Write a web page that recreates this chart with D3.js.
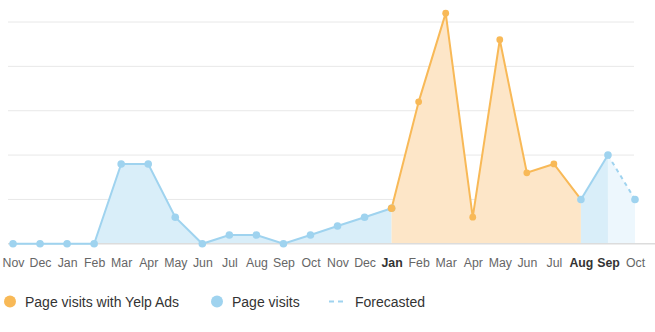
<!DOCTYPE html>
<html><head><meta charset="utf-8">
<script src="https://cdn.jsdelivr.net/npm/d3@7"></script>
<style>
html,body{margin:0;padding:0;background:#fff;}
svg{display:block;font-family:"Liberation Sans",Arial,Helvetica,sans-serif;}
</style></head>
<body>
<svg id="chart" width="655" height="332"></svg>
<script>
const months = ["Nov","Dec","Jan","Feb","Mar","Apr","May","Jun","Jul","Aug","Sep","Oct",
                "Nov","Dec","Jan","Feb","Mar","Apr","May","Jun","Jul","Aug","Sep","Oct"];
const pageVisits = [0,0,0,0,18,18,6,0,2,2,0,2,4,6,8];      // Nov – Jan (index 0–14)
const yelpVisits = [8,32,52,6,46,16,18,10];                // Jan – Aug (index 14–21)
const pageVisitsAfter = [10,20];                           // Aug – Sep (index 21–22)
const forecastVisits = [20,10];                            // Sep – Oct (index 22–23)
const yTicks = [0,10,20,30,40,50];
const boldMonths = [14,21,22];
const legendItems = ["Page visits with Yelp Ads","Page visits","Forecasted"];

const ORANGE = "#f8b957", ORANGE_AREA = "#fde6c8";
const BLUE = "#9fd3ef", BLUE_AREA = "#d9eef9", FORE_AREA = "#edf7fd";

const svg = d3.select("#chart");
const x = d3.scalePoint().domain(d3.range(months.length)).range([13, 635]);
const y = d3.scaleLinear().domain([0, 50]).range([243.8, 22]);

// gridlines
svg.append("g").selectAll("line").data(yTicks.filter(d => d > 0)).join("line")
  .attr("x1", 8).attr("x2", 634)
  .attr("y1", d => y(d)).attr("y2", d => y(d))
  .attr("stroke", "#e8e8e8").attr("stroke-width", 1);

const mk = (vals, start) => vals.map((v, i) => ({i: start + i, v}));
const s1 = mk(pageVisits, 0);
const s2 = mk(yelpVisits, 14);
const s3 = mk(pageVisitsAfter, 21);
const s4 = mk(forecastVisits, 22);

const area = d3.area().x(d => x(d.i)).y0(y(0)).y1(d => y(d.v));
const line = d3.line().x(d => x(d.i)).y(d => y(d.v));

svg.append("path").datum(s1).attr("d", area).attr("fill", BLUE_AREA);
svg.append("path").datum(s2).attr("d", area).attr("fill", ORANGE_AREA);
svg.append("path").datum(s3).attr("d", area).attr("fill", BLUE_AREA);
svg.append("path").datum(s4).attr("d", area).attr("fill", FORE_AREA);

// baseline
svg.append("line").attr("x1", 8).attr("x2", 655).attr("y1", y(0)).attr("y2", y(0))
  .attr("stroke", "#dcdcdc").attr("stroke-width", 1.5);

svg.append("path").datum(s1).attr("d", line).attr("fill", "none").attr("stroke", BLUE).attr("stroke-width", 2);
svg.append("path").datum(s3).attr("d", line).attr("fill", "none").attr("stroke", BLUE).attr("stroke-width", 2);
svg.append("path").datum(s4).attr("d", line).attr("fill", "none").attr("stroke", BLUE).attr("stroke-width", 2).attr("stroke-dasharray", "4,4");
svg.append("path").datum(s2).attr("d", line).attr("fill", "none").attr("stroke", ORANGE).attr("stroke-width", 2);

const dots = (data, color, r) => svg.append("g").selectAll("circle").data(data).join("circle")
  .attr("cx", d => x(d.i)).attr("cy", d => y(d.v)).attr("r", r).attr("fill", color);
dots(s1, BLUE, 3.8);
dots(s3.concat(s4.slice(1)), BLUE, 3.8);
dots(s2.slice(1, -1), ORANGE, 3.4);
dots([s2[0]], ORANGE, 3.8);

// x axis labels
const xAxis = d3.axisBottom(x).tickSize(0).tickPadding(0).tickFormat(i => months[i]);
const gx = svg.append("g").attr("transform", `translate(0,${258})`).call(xAxis);
gx.select(".domain").remove();
gx.selectAll("text")
  .attr("font-size", 12.3)
  .attr("font-family", "'Liberation Sans',Arial,sans-serif")
  .attr("fill", i => boldMonths.includes(i) ? "#333" : "#666")
  .attr("font-weight", i => boldMonths.includes(i) ? "bold" : "normal");

// legend
const lg = svg.append("g").attr("font-size", 14).attr("fill", "#333");
lg.append("circle").attr("cx", 10).attr("cy", 301.5).attr("r", 6).attr("fill", ORANGE);
lg.append("text").attr("x", 25).attr("y", 306.5).text(legendItems[0]).attr("fill", "#333");
lg.append("circle").attr("cx", 217).attr("cy", 301.5).attr("r", 6).attr("fill", BLUE);
lg.append("text").attr("x", 232).attr("y", 306.5).text(legendItems[1]).attr("fill", "#333");
lg.append("line").attr("x1", 329).attr("x2", 344).attr("y1", 301.5).attr("y2", 301.5)
  .attr("stroke", BLUE).attr("stroke-width", 2).attr("stroke-dasharray", "5,4");
lg.append("text").attr("x", 355).attr("y", 306.5).text(legendItems[2]).attr("fill", "#333");
</script>
</body></html>
